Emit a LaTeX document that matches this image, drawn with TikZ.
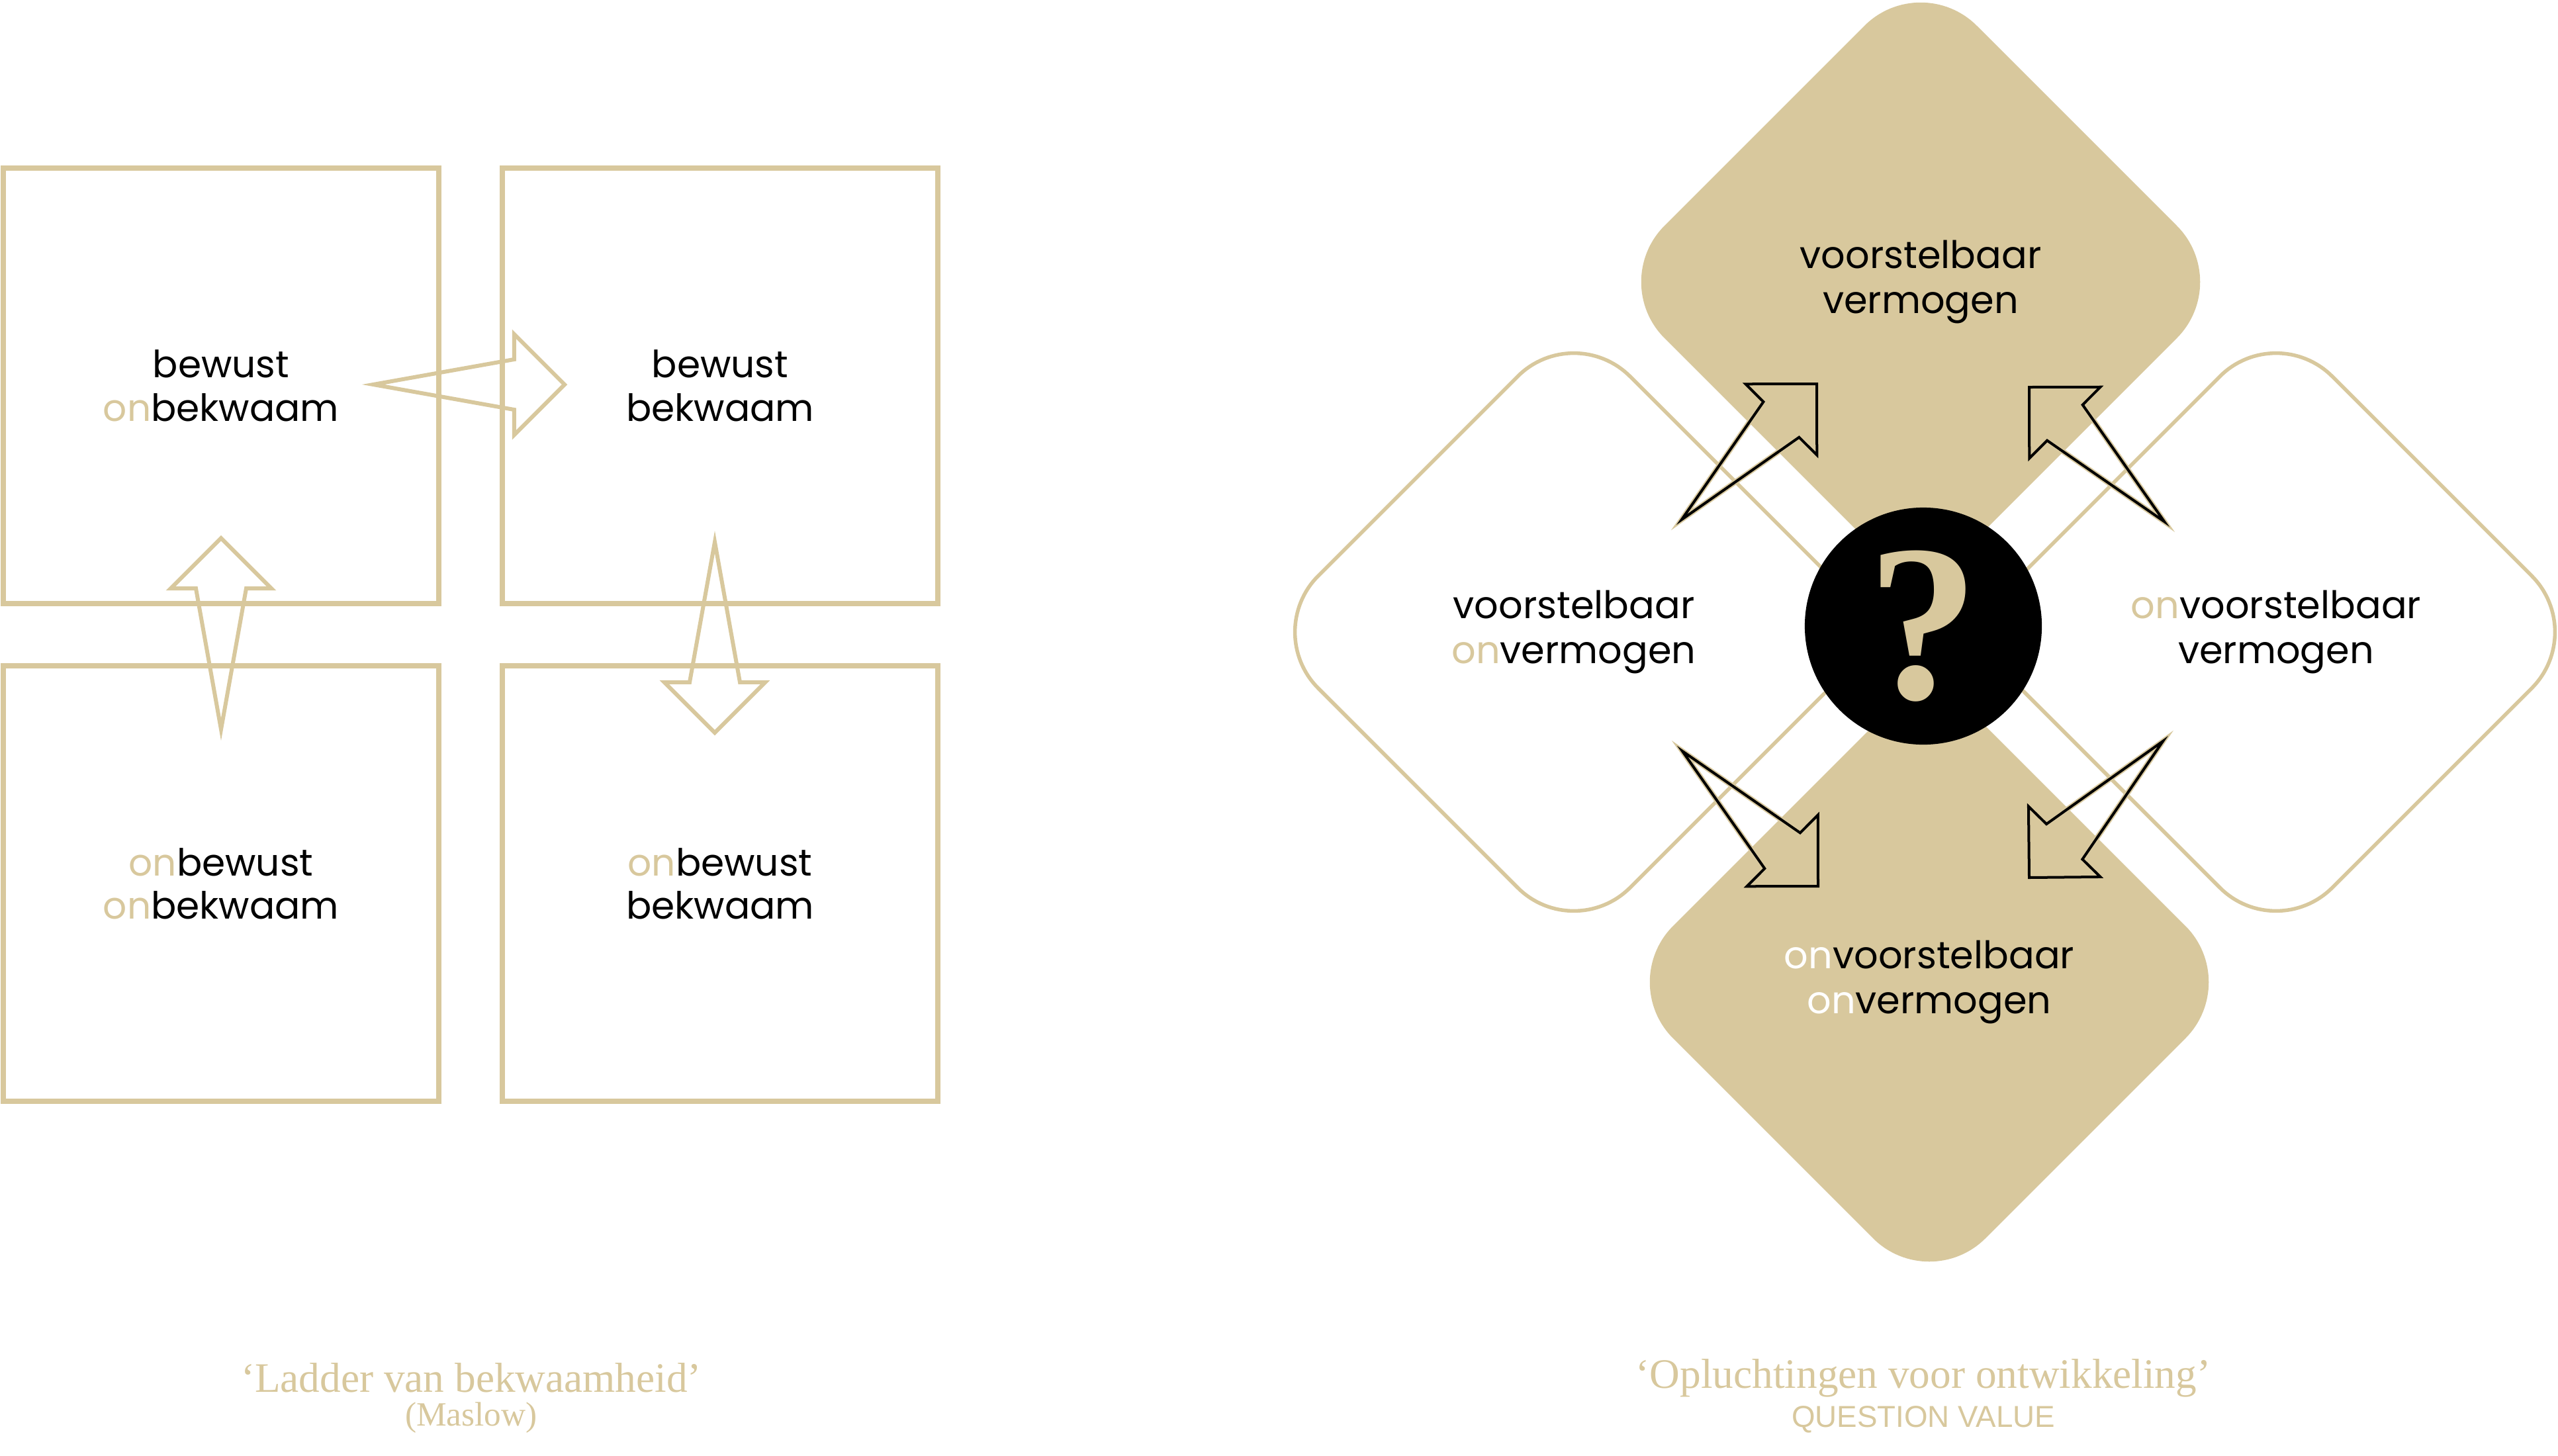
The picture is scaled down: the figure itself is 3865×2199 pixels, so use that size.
\documentclass[tikz,border=0pt]{standalone}
\usepackage{fontspec}
\setmainfont{Poppins}
\newfontfamily\capfont{Liberation Serif}
\newfontfamily\subfont{Liberation Sans}
\usepackage{tikz}
\usetikzlibrary{shapes.geometric, calc}
\definecolor{goud}{RGB}{216,200,157}
\tikzset{
  quad/.style={rectangle, draw=goud, line width=0.08cm, minimum size=6.58cm,
    inner sep=0pt, align=center, font=\fontsize{16.1}{18.6}\selectfont},
  ruit/.style={diamond, aspect=1, minimum size=9.44cm, inner sep=0pt,
    rounded corners=1.2cm, align=center, font=\fontsize{16.3}{19.4}\selectfont},
  vol/.style={ruit, fill=goud},
  open/.style={ruit, draw=goud, line width=0.055cm},
  pijl/.style={draw=goud, line width=0.06cm, line join=miter},
  zwart/.style={draw=black, line width=0.04cm, line join=miter,
    preaction={draw=goud, line width=0.08cm}},
  titel/.style={text=goud, font=\capfont\fontsize{18}{20}\selectfont},
  subtitel/.style={text=goud, font=\capfont\fontsize{14.6}{16}\selectfont}
}
\newcommand{\on}{\textcolor{goud}{on}}
% block arrow from tail #2 to tip #3
\newcommand{\blokpijl}[3]{%
  \draw[#1] (#2)
    -- ($(#3)!0.76cm!(#2)!0.38cm!90:(#3)$)
    -- ($(#3)!0.76cm!(#2)!0.76cm!90:(#3)$)
    -- (#3)
    -- ($(#3)!0.76cm!(#2)!0.76cm!-90:(#3)$)
    -- ($(#3)!0.76cm!(#2)!0.38cm!-90:(#3)$)
    -- cycle;}

\begin{document}
\begin{tikzpicture}[x=0.01cm, y=-0.01cm]
    \fill[white] (0,0) rectangle (3865,2199);
    \useasboundingbox (0,0) rectangle (3865,2199);

    % Ladder van bekwaamheid
    \node[quad] (bo) at (334,583) {bewust\\\on bekwaam};
    \node[quad] (bb) at (1088,583) {bewust\\bekwaam};
    \node[quad] (oo) at (334,1335) {\on bewust\\\on bekwaam};
    \node[quad] (ob) at (1088,1335) {\on bewust\\bekwaam};

    \coordinate (h1) at ($(bo)+(230,-2)$);
    \coordinate (h2) at ($(bb)+(-235,-2)$);
    \coordinate (u1) at ($(oo)+(0,-233)$);
    \coordinate (u2) at ($(bo)+(0,230)$);
    \coordinate (d1) at ($(bb)+(-8,236)$);
    \coordinate (d2) at ($(ob)+(-8,-228)$);
    \blokpijl{pijl}{h1}{h2}
    \blokpijl{pijl}{u1}{u2}
    \blokpijl{pijl}{d1}{d2}

    \node[titel] (t1) at (712,2082) {‘Ladder van bekwaamheid’};
    \node[subtitel] (s1) at (712,2142) {(Maslow)};

    % Opluchtingen voor ontwikkeling
    \node[vol] (vv) at (2902,426) {voorstelbaar\\vermogen};
    \node[vol] (ovo) at (2915,1484) {\textcolor{white}{on}voorstelbaar\\\textcolor{white}{on}vermogen};
    \node[open] (vo) at (2378,955) {voorstelbaar\\\on vermogen};
    \node[open] (ov) at (3439,955) {\on voorstelbaar\\vermogen};

    \node[circle, fill=black, minimum size=3.58cm, inner sep=0pt, text=goud,
      font=\capfont\bfseries\fontsize{96}{96}\selectfont] (vraag) at (2906,946) {?};

    \coordinate (a1) at (2541,785);
    \coordinate (a2) at (2745,580);
    \coordinate (b1) at (3270,788);
    \coordinate (b2) at (3066,585);
    \coordinate (c1) at (2542,1135);
    \coordinate (c2) at (2747,1339);
    \coordinate (e1) at (3268,1120);
    \coordinate (e2) at (3066,1326);
    \blokpijl{zwart}{a1}{a2}
    \blokpijl{zwart}{b1}{b2}
    \blokpijl{zwart}{c1}{c2}
    \blokpijl{zwart}{e1}{e2}

    \node[titel] (t2) at (2906,2082) {‘Opluchtingen voor ontwikkeling’};
    \node[text=goud, font=\subfont\fontsize{13}{15}\selectfont] (s2) at (2906,2145) {QUESTION VALUE};
\end{tikzpicture}
\end{document}
